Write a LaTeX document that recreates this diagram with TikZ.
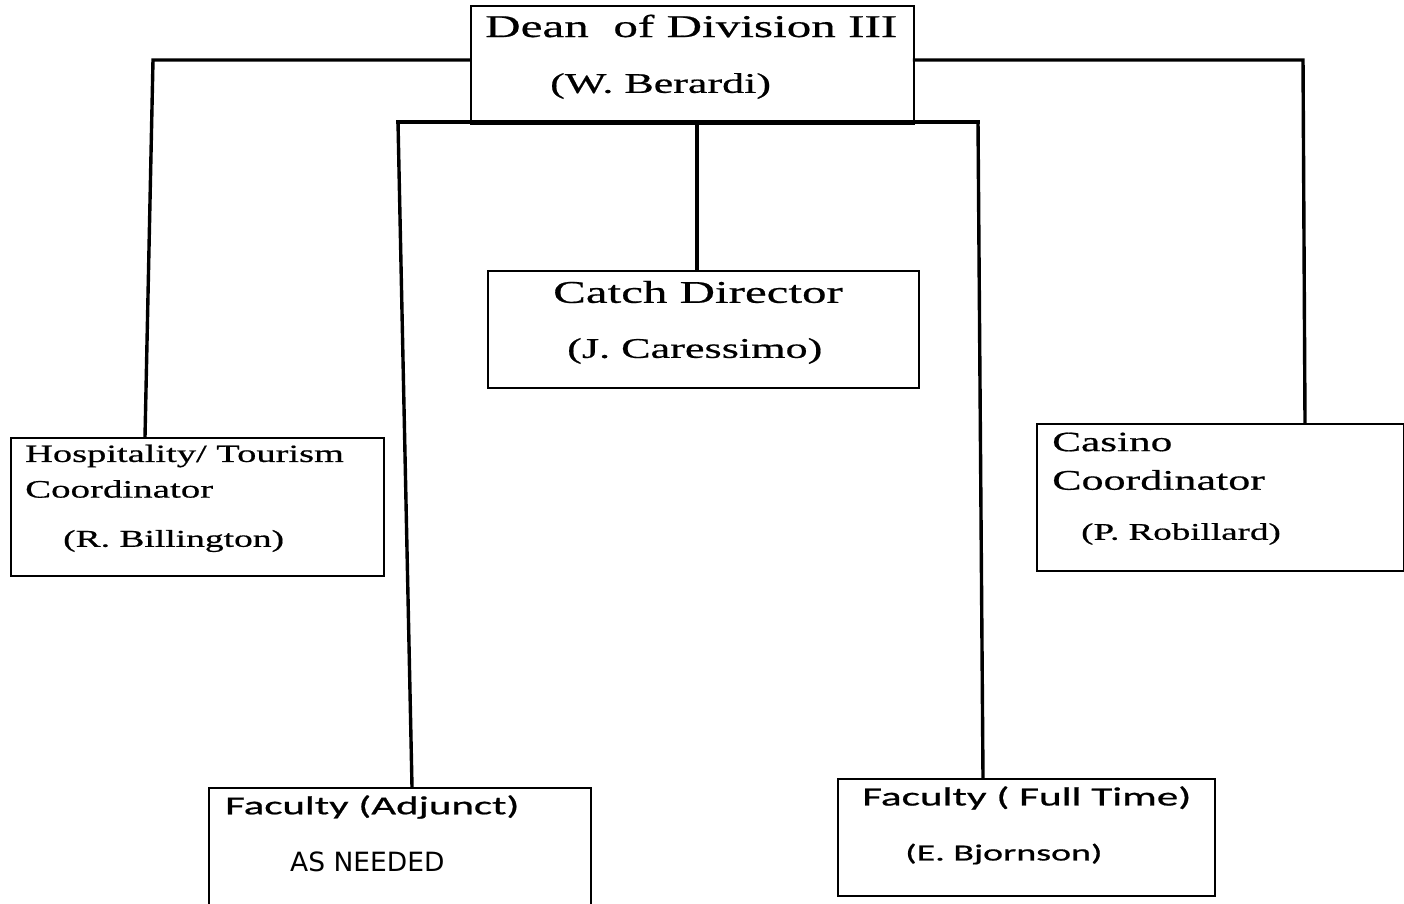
\documentclass[tikz,border=0pt]{standalone}
\usepackage{fontspec}
\newfontfamily\serfont[FakeStretch=1.55,FakeBold=0.6]{Liberation Serif}
\newfontfamily\calfont[FakeStretch=1.65,FakeBold=0.8]{Carlito}
\newfontfamily\dvsfont{DejaVu Sans}
\begin{document}
\begin{tikzpicture}[x=1pt,y=-1pt,
  box/.style={draw=black, line width=1.6pt, inner sep=0, anchor=north west},
  conn/.style={draw=black, line width=3.4pt, line cap=rect},
  txt/.style={inner sep=0, anchor=west, text=black}]
\useasboundingbox (0,0) rectangle (1404,903);
% boxes
\node[box, minimum width=443, minimum height=118] (dean) at (470,5) {};
\node[box, minimum width=431, minimum height=117] (catch) at (487,270) {};
\node[box, minimum width=373, minimum height=138] (hosp) at (10,437) {};
\node[box, minimum width=367, minimum height=147] (casino) at (1036,423) {};
\node[box, minimum width=382, minimum height=125] (adj) at (208,787) {};
\node[box, minimum width=377, minimum height=117] (full) at (837,778) {};
% texts
\node[txt] (t1) at (485,26) {\serfont\fontsize{31.7}{34}\selectfont Dean\ \ of Division III};
\node[txt] (t2) at (550,86) {\serfont\fontsize{28.4}{30}\selectfont (W. Berardi)};
\node[txt] (t3) at (553,292) {\serfont\fontsize{31.6}{34}\selectfont Catch Director};
\node[txt] (t4) at (567,351) {\serfont\fontsize{28.5}{30}\selectfont (J. Caressimo)};
\node[txt] (t5) at (25,456) {\serfont\fontsize{24.8}{26}\selectfont Hospitality/ Tourism};
\node[txt] (t6) at (25,489) {\serfont\fontsize{25.1}{26}\selectfont Coordinator};
\node[txt] (t7) at (63,541) {\serfont\fontsize{24.2}{26}\selectfont (R. Billington)};
\node[txt] (t8) at (1052,442) {\serfont\fontsize{27.9}{30}\selectfont Casino};
\node[txt] (t9) at (1052,480) {\serfont\fontsize{28.4}{30}\selectfont Coordinator};
\node[txt] (t10) at (1081,534) {\serfont\fontsize{23.9}{26}\selectfont (P. Robillard)};
\node[txt] (t11) at (225,807) {\calfont\fontsize{26}{28}\selectfont Faculty (Adjunct)};
\node[txt] (t12) at (290,862) {\dvsfont\fontsize{26.5}{28}\selectfont AS NEEDED};
\node[txt] (t13) at (862,798) {\calfont\fontsize{26.2}{28}\selectfont Faculty ( Full Time)};
\node[txt] (t14) at (905,854) {\calfont\fontsize{23}{25}\selectfont (E. Bjornson)};
% connector corners
\coordinate (lc) at (153,60);
\coordinate (rc) at (1303,60);
\coordinate (al) at (398,122);
\coordinate (ar) at (978,122);
% connectors
\draw[conn] (dean.west |- lc) -- (lc) -- (hosp.north west -| 145,0);
\draw[conn] (dean.east |- rc) -- (rc) -- (casino.north west -| 1305,0);
\draw[conn] (al) -- (ar);
\draw[conn] (al) -- (adj.north west -| 412,0);
\draw[conn] (ar) -- (full.north west -| 983,0);
\draw[conn] (dean.south -| 697,0) -- (catch.north -| 697,0);
\end{tikzpicture}
\end{document}
